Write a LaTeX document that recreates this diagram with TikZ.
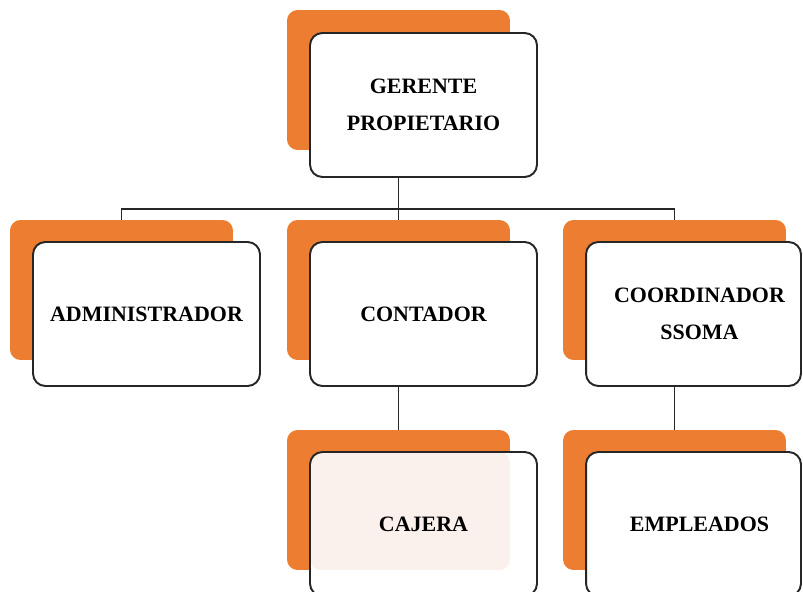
\documentclass[tikz,border=0pt]{standalone}
\usepackage{fontspec}
\setmainfont{Liberation Serif}
\usetikzlibrary{backgrounds}
\definecolor{rankOrange}{HTML}{ED7D31}
\definecolor{rankTint}{HTML}{FBF1EC}

\begin{document}
\begin{tikzpicture}
[ x=0.02cm, y=-0.02cm,
		back/.style={rectangle,rounded corners=6pt,fill=rankOrange,minimum width=4.46cm,minimum height=2.8cm,inner sep=0pt,outer sep=0pt},
		front/.style={rectangle,rounded corners=7pt,draw=black!85,line width=1.1pt,fill=white,minimum width=4.54cm,minimum height=2.88cm,inner sep=0pt,outer sep=0pt,anchor=north west,align=center,font=\fontsize{12.5}{21}\selectfont\bfseries},
		narrow/.style={minimum width=4.3cm},
		link/.style={draw=black!85,line width=0.8pt}]

	\useasboundingbox (0,0) rectangle (803,591);

	\node[back] (gerente back) at (398.5,80) {};
	\node[back] (admin back) at (121.5,290) {};
	\node[back] (contador back) at (398.5,290) {};
	\node[back] (ssoma back) at (674.5,290) {};
	\node[back] (cajera back) at (398.5,500) {};
	\node[back] (empleados back) at (674.5,500) {};

	\node[front] (gerente) at ([shift={(23,23)}]gerente back.north west) {GERENTE\\PROPIETARIO};
	\node[front] (admin) at ([shift={(23,22)}]admin back.north west) {ADMINISTRADOR};
	\node[front] (contador) at ([shift={(23,22)}]contador back.north west) {CONTADOR};
	\node[front,narrow] (ssoma) at ([shift={(23,22)}]ssoma back.north west) {\hspace*{0.24cm}COORDINADOR\\\hspace*{0.24cm}SSOMA};
	\node[front,path picture={\fill[rankTint,rounded corners=6pt] (path picture bounding box.north west) rectangle ++(4cm,-2.36cm);}] (cajera) at ([shift={(23,22)}]cajera back.north west) {CAJERA};
	\node[front,narrow] (empleados) at ([shift={(23,22)}]empleados back.north west) {\hspace*{0.24cm}EMPLEADOS};

	\coordinate (bus) at (398.5,209);

	\begin{pgfonlayer}{background}
		\draw[link] (admin back.north) |- (bus) -| (ssoma back.north);
		\draw[link] (gerente back.south) -- (contador back.north);
		\draw[link] (contador back.south) -- (cajera back.north);
		\draw[link] (ssoma back.south) -- (empleados back.north);
	\end{pgfonlayer}
\end{tikzpicture}
\end{document}
